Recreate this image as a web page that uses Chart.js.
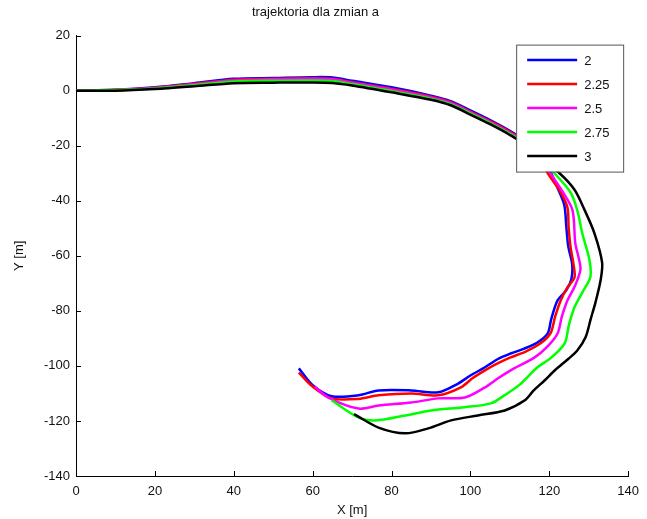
<!DOCTYPE html>
<html>
<head>
<meta charset="utf-8">
<script src="https://cdn.jsdelivr.net/npm/chart.js@4/dist/chart.umd.min.js"></script>
<style>
  html, body { margin: 0; padding: 0; background: #fff; }
  #wrap { width: 647px; height: 519px; }
</style>
</head>
<body>
<div id="wrap"><canvas id="trajChart" width="647" height="519"></canvas></div>
<script>
// serie (wartosci a) i kolory
const seriesLabels = ['2', '2.25', '2.5', '2.75', '3'];
const seriesColors = ['#0000ff', '#ff0000', '#ff00ff', '#00ff00', '#000000'];

// trajektorie
const xA2 = [0, 10, 20, 30, 40, 50, 60, 65, 70, 80, 90, 95, 100, 105, 110, 115, 118, 120, 122, 123.8, 124.3, 124.8, 125.8, 125.6, 124.3, 122.1, 120.5, 119.6, 117, 113.5, 110.2, 107, 103.7, 100, 96.9, 91.8, 85, 76.7, 71.6, 64.8, 60, 56.5];
const yA2 = [0, 0.3, 1.2, 2.7, 4.3, 4.6, 4.9, 4.8, 3.6, 1.2, -1.8, -3.8, -7.2, -10.7, -14.6, -19.2, -23.5, -28.5, -35, -41.5, -49, -56.5, -63, -68.5, -72.5, -76.2, -83, -88.2, -91.5, -93.8, -95.5, -97.5, -100.5, -103.5, -106.4, -109.6, -108.9, -108.9, -110.7, -111, -107, -100.9];

const xA225 = [0, 10, 20, 30, 40, 50, 60, 65, 70, 80, 90, 95, 100, 105, 110, 115, 118, 119.6, 122.6, 124.6, 124.9, 125.4, 126.1, 126.4, 124.6, 122.9, 121.5, 120.3, 117.8, 114, 110.2, 107, 103.7, 100.5, 97.6, 91.8, 85, 76.7, 71.6, 64.8, 60, 56.5];
const yA225 = [0, 0.3, 1.1, 2.5, 4, 4.3, 4.5, 4.3, 3.1, 0.7, -2.2, -4.2, -7.6, -11.1, -15, -19.6, -24.5, -30, -36.2, -42.4, -49.6, -56.9, -62.7, -67.8, -71.5, -76.2, -82, -88.2, -91.8, -94.8, -96.9, -99, -101.6, -104.5, -107.8, -110.7, -110, -110.7, -112, -111.8, -107.5, -102.4];

const xA25 = [0, 10, 20, 30, 40, 50, 60, 65, 70, 80, 90, 95, 100, 105, 110, 115, 118, 120.3, 123.5, 125.9, 126.6, 127.5, 127.9, 126.5, 124.6, 123.2, 122.1, 119.5, 116.3, 110.2, 107, 103.7, 98.6, 91.8, 85, 76.7, 71.6, 64, 60.5];
const yA25 = [0, 0.2, 1, 2.3, 3.7, 4.1, 4.3, 4.1, 2.9, 0.4, -2.5, -4.5, -7.9, -11.4, -15.3, -19.9, -24.8, -30, -37, -43.5, -55.5, -61, -65, -71, -76.2, -82, -88.2, -93, -96.9, -101.6, -104.5, -107.8, -111.5, -111.8, -113.3, -114.4, -115.5, -111.5, -107.5];

const xA275 = [0, 10, 20, 30, 40, 50, 60, 65, 70, 80, 90, 95, 100, 105, 110, 115, 118, 121.3, 125.4, 127.1, 128.4, 130.2, 130.4, 128.5, 126.4, 125, 123.9, 120.5, 117, 112.5, 108.5, 105.2, 98.6, 90, 83.5, 75.9, 71.6, 64.8];
const yA275 = [0, 0.2, 0.8, 2, 3.3, 3.6, 3.7, 3.5, 2.4, -0.1, -2.9, -4.9, -8.3, -11.8, -15.7, -20.3, -25, -30, -37, -43.5, -52, -61.6, -67.8, -73, -78.7, -85, -91.8, -97, -100.5, -106.8, -110.8, -113.6, -115, -116.2, -118, -119.8, -118.7, -112.5];

const xA3 = [0, 10, 20, 30, 40, 50, 60, 65, 70, 80, 90, 95, 100, 105, 110, 115, 118, 122.6, 126.4, 129, 131.5, 133.4, 133, 131.7, 130.5, 129.2, 127.1, 124.8, 121.5, 118.8, 116, 113.8, 108.7, 101.9, 95.1, 89.3, 83.5, 76.7, 70.5];
const yA3 = [0, 0, 0.6, 1.6, 2.7, 2.9, 3, 2.8, 1.9, -0.6, -3.3, -5.3, -8.7, -12.2, -16.1, -20.7, -25, -30, -36, -43.5, -52, -62.5, -69, -77, -83, -89.6, -94.4, -97.5, -101.5, -105.3, -109, -112.5, -116.2, -118, -119.8, -122.7, -124.5, -122.4, -117.5];

const seriesX = [xA2, xA225, xA25, xA275, xA3];
const seriesY = [yA2, yA225, yA25, yA275, yA3];

const xTicks = [0, 20, 40, 60, 80, 100, 120, 140];
const yTicks = [20, 0, -20, -40, -60, -80, -100, -120, -140];

const FONT = 'Liberation Sans, Arial, sans-serif';

// tlo figury
const bgPlugin = {
    id: 'bg',
    beforeDraw(chart) {
        const c = chart.ctx;
        c.save();
        c.fillStyle = '#ffffff';
        c.fillRect(0, 0, chart.width, chart.height);
        c.restore();
    }
};

// znaczniki osi do wewnatrz (jak w matlabie)
const innerTicks = {
    id: 'innerTicks',
    afterDraw(chart) {
        const c = chart.ctx;
        const xs = chart.scales.x, ys = chart.scales.y;
        const area = chart.chartArea;
        c.save();
        c.strokeStyle = '#000';
        c.lineWidth = 1;
        c.beginPath();
        xs.ticks.forEach(t => {
            const px = Math.round(xs.getPixelForValue(t.value)) + 0.5;
            c.moveTo(px, area.bottom);
            c.lineTo(px, area.bottom - 5);
        });
        ys.ticks.forEach(t => {
            const py = Math.round(ys.getPixelForValue(t.value)) + 0.5;
            c.moveTo(area.left, py);
            c.lineTo(area.left + 5, py);
        });
        c.stroke();
        c.restore();
    }
};

// legenda w ramce wewnatrz wykresu
const boxLegend = {
    id: 'boxLegend',
    afterDraw(chart) {
        const c = chart.ctx;
        const area = chart.chartArea;
        const w = 107, h = 127;
        const left = area.right - 5 - w;
        const top = area.top + 9;
        c.save();
        c.fillStyle = '#ffffff';
        c.fillRect(left, top, w, h);
        c.strokeStyle = '#555';
        c.lineWidth = 1;
        c.strokeRect(left + 0.5, top + 0.5, w, h);
        c.font = '13px ' + FONT;
        c.textBaseline = 'middle';
        c.textAlign = 'left';
        chart.data.datasets.forEach((ds, i) => {
            const y = top + 15.5 + i * 24;
            c.strokeStyle = ds.borderColor;
            c.lineWidth = 2.5;
            c.beginPath();
            c.moveTo(left + 11, y);
            c.lineTo(left + 61, y);
            c.stroke();
            c.fillStyle = '#111';
            c.fillText(ds.label, left + 68, y + 1);
        });
        c.restore();
    }
};

const datasets = seriesLabels.map((label, i) => ({
    label: label,
    data: seriesX[i].map((x, j) => ({ x: x, y: seriesY[i][j] })),
    borderColor: seriesColors[i],
    backgroundColor: seriesColors[i],
    borderWidth: 2.5,
    showLine: true,
    pointRadius: 0,
    tension: 0.3,
    fill: false,
    order: seriesLabels.length - i
}));

const ctx = document.getElementById('trajChart').getContext('2d');
const trajChart = new Chart(ctx, {
    type: 'scatter',
    data: { datasets: datasets },
    options: {
        responsive: false,
        animation: false,
        layout: { padding: { left: 0, right: 16, top: 0, bottom: 0 } },
        plugins: {
            legend: { display: false },
            tooltip: { enabled: false },
            title: {
                display: true,
                text: 'trajektoria dla zmian a',
                color: '#111',
                font: { family: FONT, size: 13, weight: 'normal' },
                padding: { top: 5, bottom: 15 }
            }
        },
        scales: {
            x: {
                type: 'linear',
                min: 0,
                max: 140,
                afterBuildTicks: s => { s.ticks = xTicks.map(v => ({ value: v })); },
                afterFit: s => { s.height = 43; },
                grid: { display: false, drawTicks: false },
                border: { display: true, color: '#000', width: 1 },
                ticks: { color: '#111', font: { family: FONT, size: 13 }, padding: 8, maxRotation: 0, autoSkip: false },
                title: { display: true, text: 'X [m]', color: '#111', font: { family: FONT, size: 13 }, padding: { top: 0, bottom: 1 } }
            },
            y: {
                type: 'linear',
                min: -140,
                max: 20,
                afterBuildTicks: s => { s.ticks = yTicks.map(v => ({ value: v })); },
                afterFit: s => { s.width = 76; },
                grid: { display: false, drawTicks: false },
                border: { display: true, color: '#000', width: 1 },
                ticks: { color: '#111', font: { family: FONT, size: 13 }, padding: 6, autoSkip: false },
                title: { display: true, text: 'Y [m]', color: '#111', font: { family: FONT, size: 13 }, padding: { top: 12, bottom: 0 } }
            }
        }
    },
    plugins: [bgPlugin, innerTicks, boxLegend]
});
</script>
</body>
</html>
